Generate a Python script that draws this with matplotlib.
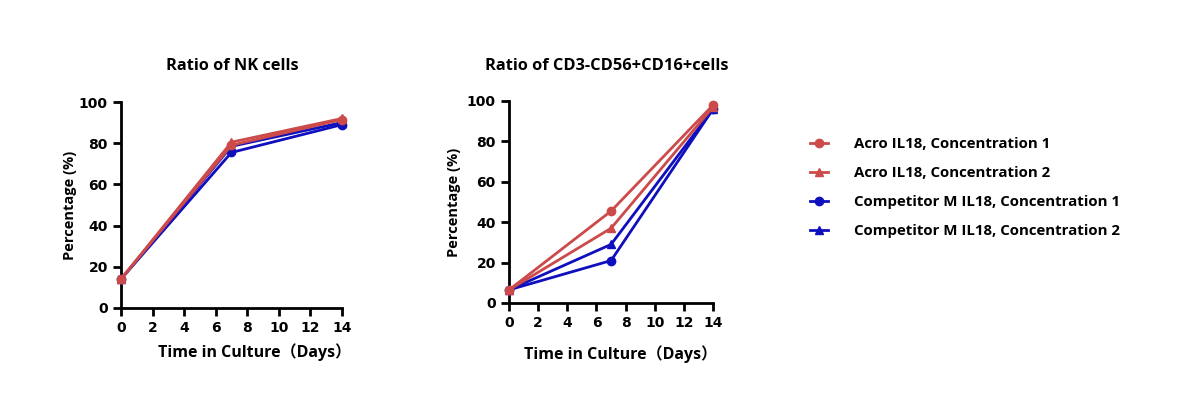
import numpy as np
import matplotlib
matplotlib.use("Agg")
import matplotlib.pyplot as plt
from matplotlib.lines import Line2D

plt.rcParams['font.family'] = ['Open Sans', 'Noto Sans CJK SC', 'DejaVu Sans']
plt.rcParams['font.weight'] = 'bold'

days = [0, 7, 14]
series_names = ["Acro IL18, Concentration 1", "Acro IL18, Concentration 2",
                "Competitor M IL18, Concentration 1", "Competitor M IL18, Concentration 2"]

# Ratio of NK cells
nk_acro_1 = [14, 79, 91.5]
nk_acro_2 = [14, 80.5, 92]
nk_comp_1 = [14, 75.5, 89]
nk_comp_2 = [14, 78.5, 90]

# Ratio of CD3-CD56+CD16+ cells
cd_acro_1 = [6.5, 45.5, 98]
cd_acro_2 = [6.5, 37, 97]
cd_comp_1 = [6.5, 21, 96]
cd_comp_2 = [6.5, 29, 96]

red = "#CD4A4A"
blue = "#0F0FBE"
colors = [red, red, blue, blue]
markers = ["o", "^", "o", "^"]
# draw blue first so red sits on top, like the original
order = [2, 3, 0, 1]

W, H = 1180, 394
fig = plt.figure(figsize=(W / 100, H / 100), dpi=100)
ax1 = fig.add_axes([0.1025, 0.2183, 0.1873, 0.5228])
ax2 = fig.add_axes([0.4314, 0.2310, 0.1729, 0.5127])


def draw(ax, data, ypad):
    for i in order:
        ax.plot(days, data[i], color=colors[i], marker=markers[i], markersize=6,
                linewidth=2, clip_on=False, zorder=3)
    ax.set_xlim(0, 14)
    ax.set_ylim(0, 100)
    ax.set_xticks(range(0, 15, 2))
    ax.set_yticks(range(0, 101, 20))
    for s in ["top", "right"]:
        ax.spines[s].set_visible(False)
    for s in ["left", "bottom"]:
        ax.spines[s].set_linewidth(2)
    ax.tick_params(width=2, length=6, labelsize=10)
    for lab in ax.get_xticklabels() + ax.get_yticklabels():
        lab.set_fontweight('bold')
        lab.set_family('DejaVu Sans')
    ax.set_ylabel("Percentage (%)", fontsize=10.5, fontweight='bold', labelpad=ypad)


draw(ax1, [nk_acro_1, nk_acro_2, nk_comp_1, nk_comp_2], 1)
draw(ax2, [cd_acro_1, cd_acro_2, cd_comp_1, cd_comp_2], 4)

fig.text(232 / W, 1 - 66 / H, "Ratio of NK cells", ha='center', va='center',
         fontsize=11.8, fontweight='bold')
fig.text(607 / W, 1 - 66 / H, "Ratio of CD3-CD56+CD16+cells", ha='center', va='center',
         fontsize=11.8, fontweight='bold')

xlab = "Time in Culture（Days）"
fig.text(255 / W, 1 - 352 / H, xlab, ha='center', va='center',
         fontsize=11.5, fontweight='bold')
fig.text(621 / W, 1 - 354 / H, xlab, ha='center', va='center',
         fontsize=11.5, fontweight='bold')

handles = [Line2D([0], [0], color=colors[i], marker=markers[i], markersize=6, linewidth=2)
           for i in range(4)]
fig.legend(handles, series_names, loc='upper left', bbox_to_anchor=(0.675, 0.687),
           frameon=False, prop={'weight': 'bold', 'size': 10.8},
           handlelength=1.2, labelspacing=1.0, handletextpad=1.7)

fig.savefig("out.png", dpi=100)
